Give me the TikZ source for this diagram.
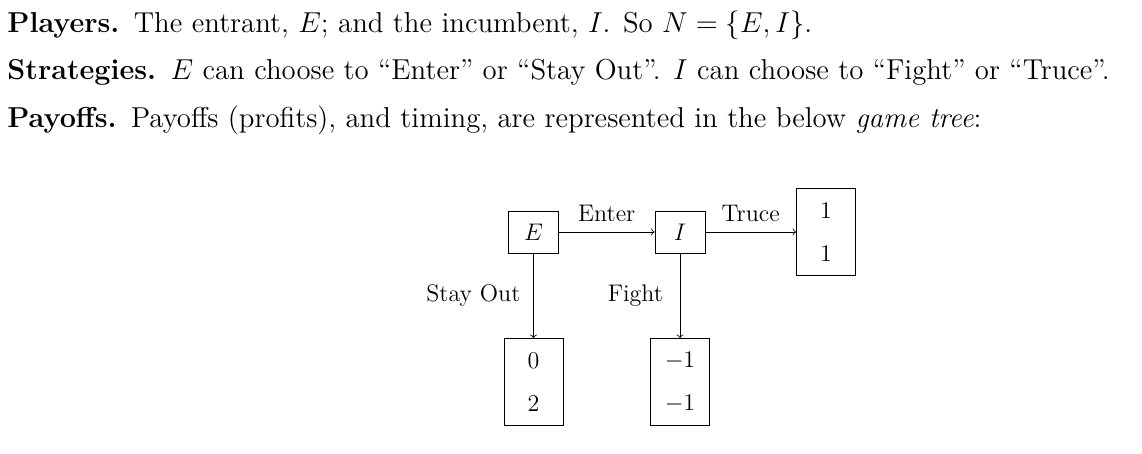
\documentclass[tikz,border=0pt]{standalone}
\usepackage{amsmath}
\usepackage{amssymb}
\usepackage{tikz}
\usetikzlibrary{positioning, arrows, arrows.meta}

\begin{document}
\begin{tikzpicture}[x=0.5pt, y=-0.5pt,
  player/.style={draw, minimum width=25pt, minimum height=21pt, inner sep=0pt, font=\large},
  payoff/.style={draw, minimum width=29.5pt, minimum height=43.5pt, inner sep=0pt, align=center, font=\large},
  line/.style={anchor=base west, inner sep=0pt, font=\Large},
  move/.style={->, >=to}]
\useasboundingbox (0,0) rectangle (1142,454);

% --- Setting of the game ---
\node[line] (players) at (7,33) {\textbf{Players.}\enspace The entrant, $E$; and the incumbent, $I$. So $N=\{E,I\}$.};
\node[line] (strategies) at (7,80) {\textbf{Strategies.}\enspace $E$ can choose to ``Enter'' or ``Stay Out''. $I$ can choose to ``Fight'' or ``Truce''.};
\node[line] (payoffs) at (7,128) {\textbf{Payoffs.}\enspace Payoffs (profits), and timing, are represented in the below \emph{game tree}:};

% --- Game tree ---
\node[player] (E) at (533.5,232) {$E$};
\node[player] (I) at (680,232) {$I$};
\node[payoff] (truce) at (826,232) {$1$\\[7.5pt]$1$};
\node[payoff] (out) at (533.5,382) {$0$\\[7.5pt]$2$};
\node[payoff] (fight) at (680,382) {$-1$\\[7.5pt]$-1$};

\draw[move] (E) -- node[midway, above=1.5pt, font=\large] (enter) {Enter} (I);
\draw[move] (I) -- node[midway, above=1.5pt, font=\large] (truceLab) {Truce} (truce);
\draw[move] (E) -- node[midway, left=3pt, font=\large] (stayLab) {Stay Out} (out);
\draw[move] (I) -- node[midway, left=5pt, font=\large] (fightLab) {Fight} (fight);

\end{tikzpicture}
\end{document}
